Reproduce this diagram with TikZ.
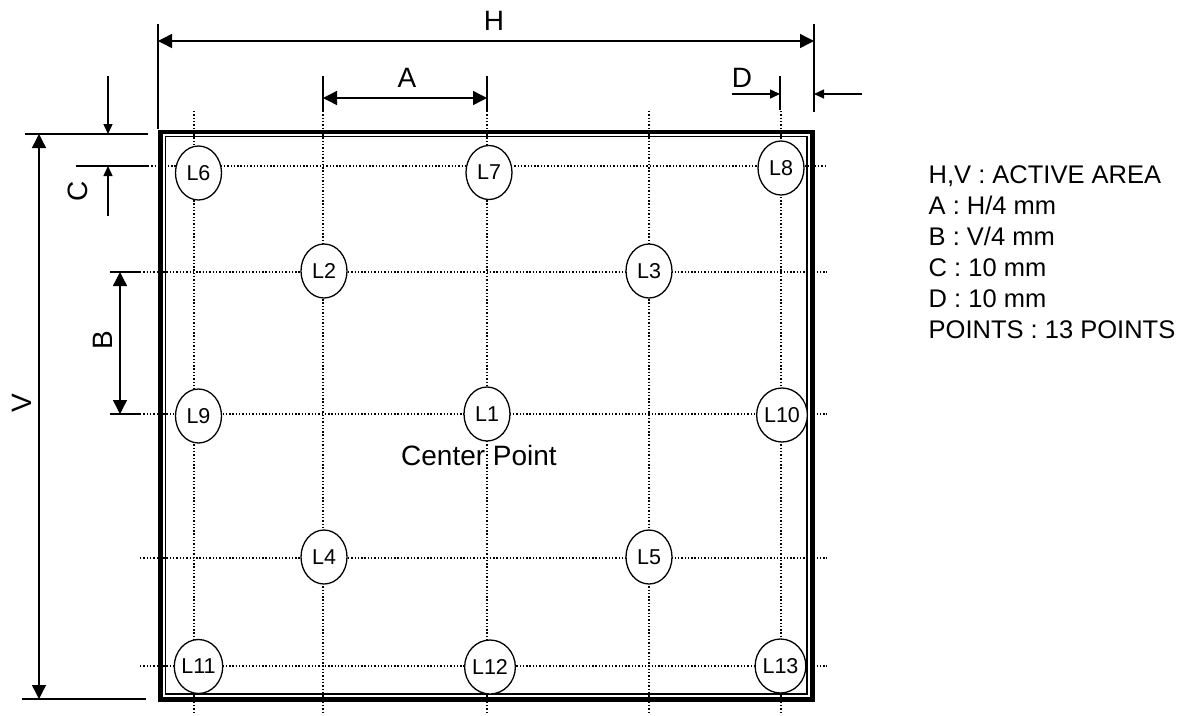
\documentclass[tikz,border=0pt]{standalone}
\usepackage{fontspec}
\setmainfont{Liberation Sans}
\usetikzlibrary{arrows.meta, shapes.geometric}

\begin{document}
\begin{tikzpicture}[x = 1pt, y = -1pt, line width = 1.4pt,
                        pt/.style = {ellipse, draw, fill = white, line width = 1.3pt, inner sep = 0pt,
                                     minimum width = 46pt, minimum height = 54pt, font = \fontsize{21.5}{21.5}\selectfont},
                        grid/.style = {line width = 1.3pt, dash pattern = on 1.4pt off 1.9pt},
                        dim/.style = {{Triangle[length = 14pt, width = 14pt]}-{Triangle[length = 14pt, width = 14pt]}},
                        tip/.style = {-{Triangle[length = 10pt, width = 9pt]}},
                        lbl/.style = {inner sep = 0pt, font = \fontsize{28}{28}\selectfont}]
      \useasboundingbox (0, 0) rectangle (1198, 715);
      % dotted grid
      \foreach \gx in {194, 323, 487, 649, 781}
        \draw [grid] (\gx, 111) -- (\gx, 712);
      \draw [grid] (148, 166) -- (827, 166);
      \foreach \gy in {272, 414, 558, 666}
        \draw [grid] (140, \gy) -- (827, \gy);
      % active area frame
      \draw [line width = 4.5pt] (160.5, 132) rectangle (812.5, 699.5);
      \draw [line width = 1.2pt] (165.5, 136.5) rectangle (807, 694);
      % measuring points
      \node [pt] (l6) at (198.5, 173){L6};
      \node [pt] (l7) at (489, 172.5){L7};
      \node [pt] (l8) at (781, 168){L8};
      \node [pt] (l2) at (324, 271){L2};
      \node [pt] (l3) at (649, 271){L3};
      \node [pt] (l9) at (198.5, 416){L9};
      \node [pt] (l1) at (487, 414){L1};
      \node [pt] (l10) at (782, 415){L10};
      \node [pt] (l4) at (324, 557){L4};
      \node [pt] (l5) at (649, 557){L5};
      \node [pt] (l11) at (198.5, 666.5){L11};
      \node [pt] (l12) at (490, 667){L12};
      \node [pt] (l13) at (780.5, 666){L13};
      \node [lbl, anchor = base] (cp) at (479, 465){Center Point};
      % extension lines
      \coordinate (h1) at (158, 24);
      \coordinate (h1e) at (158, 129);
      \coordinate (h2) at (814, 24);
      \coordinate (h2e) at (814, 112);
      \coordinate (a1) at (323, 76);
      \coordinate (a1e) at (323, 111);
      \coordinate (a2) at (487, 76);
      \coordinate (a2e) at (487, 111);
      \coordinate (d1) at (780, 76);
      \coordinate (d1e) at (780, 110);
      \coordinate (c1) at (25, 134);
      \coordinate (c1e) at (148, 134);
      \coordinate (c2) at (76, 166);
      \coordinate (c2e) at (148, 166);
      \coordinate (b1) at (110, 272);
      \coordinate (b1e) at (140, 272);
      \coordinate (b2) at (110, 414);
      \coordinate (b2e) at (140, 414);
      \coordinate (v2) at (22, 699);
      \coordinate (v2e) at (146, 699);
      \draw (h1) -- (h1e);
      \draw (h2) -- (h2e);
      \draw (a1) -- (a1e);
      \draw (a2) -- (a2e);
      \draw (d1) -- (d1e);
      \draw (c1) -- (c1e);
      \draw (c2) -- (c2e);
      \draw (b1) -- (b1e);
      \draw (b2) -- (b2e);
      \draw (v2) -- (v2e);
      % dimension arrows
      \coordinate (hl) at (158, 41);
      \coordinate (hr) at (814, 41);
      \coordinate (al) at (323, 98);
      \coordinate (ar) at (487, 98);
      \coordinate (dl) at (732, 94);
      \coordinate (dm) at (780, 94);
      \coordinate (dr) at (862, 94);
      \coordinate (dn) at (814, 94);
      \coordinate (ct) at (108, 76);
      \coordinate (cm) at (108, 134);
      \coordinate (cb) at (108, 216);
      \coordinate (cn) at (108, 166);
      \coordinate (vt) at (39, 134);
      \coordinate (vb) at (39, 699);
      \coordinate (bt) at (120, 272);
      \coordinate (bb) at (120, 414);
      \draw [dim] (hl) -- (hr);
      \draw [dim] (al) -- (ar);
      \draw [dim] (vt) -- (vb);
      \draw [dim] (bt) -- (bb);
      \draw [tip] (dl) -- (dm);
      \draw [tip] (dr) -- (dn);
      \draw [tip] (ct) -- (cm);
      \draw [tip] (cb) -- (cn);
      % dimension labels
      \node [lbl, anchor = base] (hlbl) at (494, 30){H};
      \node [lbl, anchor = base] (albl) at (407, 87){A};
      \node [lbl, anchor = base] (dlbl) at (742, 87){D};
      \node [lbl, rotate = 90] (clbl) at (78, 191){C};
      \node [lbl, rotate = 90] (vlbl) at (22, 403){V};
      \node [lbl, rotate = 90] (blbl) at (102.5, 340){B};
      % legend
      \node [anchor = north west, inner sep = 0pt, align = left, font = \fontsize{25.5}{31}\selectfont] (legend) at (928, 165)
        {H,V : ACTIVE AREA\\A : H/4 mm\\B : V/4 mm\\C : 10 mm\\D : 10 mm\\POINTS : 13 POINTS};
    \end{tikzpicture}
\end{document}
